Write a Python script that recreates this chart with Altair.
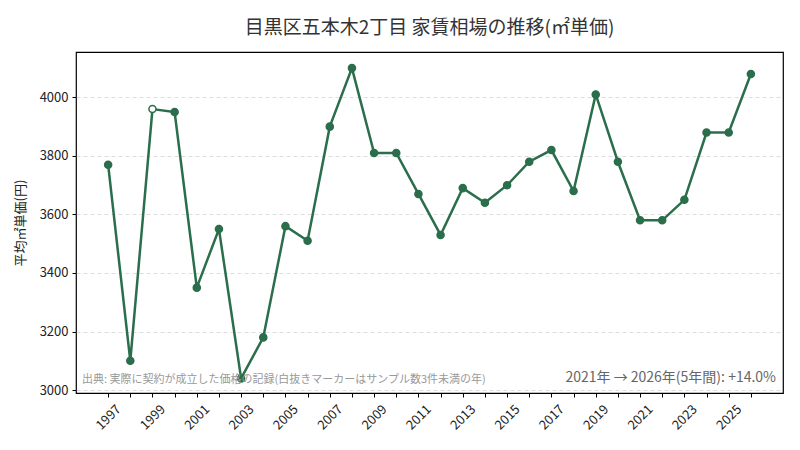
import pandas as pd
import altair as alt

# 年ごとの平均㎡単価(円)
years = list(range(1997, 2027))
prices = [3770, 3100, 3960, 3950, 3350, 3550, 3040, 3180, 3560, 3510,
          3900, 4100, 3810, 3810, 3670, 3530, 3690, 3640, 3700, 3780,
          3820, 3680, 4010, 3780, 3580, 3580, 3650, 3880, 3880, 4080]
# サンプル数3件未満の年(白抜き)
few_samples = [1999]

title_text = "目黒区五本木2丁目 家賃相場の推移(㎡単価)"
y_title = "平均㎡単価(円)"
source_note = "出典: 実際に契約が成立した価格の記録(白抜きマーカーはサンプル数3件未満の年)"
change_note = "2021年 → 2026年(5年間): +14.0%"

GREEN = "#2a6e4b"
FONT = "Noto Sans CJK JP"

df = pd.DataFrame({"year": years, "price": prices})
df["fill"] = ["white" if y in few_samples else GREEN for y in years]

x = alt.X("year:Q", title=None,
          scale=alt.Scale(domain=[1995.55, 2027.45], nice=False, zero=False),
          axis=alt.Axis(values=years, labelExpr="datum.value % 2 == 1 ? datum.value : ''",
                        labelAngle=315, labelAlign="center", labelBaseline="middle",
                        grid=False, tickColor="black", domain=False,
                        labelColor="#222", labelFontSize=13, tickSize=4, labelPadding=20))
y = alt.Y("price:Q", title=y_title,
          scale=alt.Scale(domain=[2990, 4155], nice=False, zero=False),
          axis=alt.Axis(values=[3000, 3200, 3400, 3600, 3800, 4000], format="d",
                        gridDash=[4, 3], gridColor="#dddddd", domain=False,
                        tickColor="black", labelColor="#222", labelFontSize=13,
                        titleFontSize=13, titleColor="#222", titleFontWeight="normal",
                        tickSize=4, titlePadding=12, labelPadding=4))

base = alt.Chart(df)
line = base.mark_line(color=GREEN, strokeWidth=2.5).encode(x=x, y=y)
points = base.mark_point(filled=False, size=50, strokeWidth=1.5, color=GREEN, opacity=1).encode(
    x=x, y=y, fill=alt.Fill("fill:N", scale=None))

left_note = alt.Chart(pd.DataFrame({"t": [source_note]})).mark_text(
    align="left", baseline="bottom", fontSize=11, color="#999999", font=FONT
).encode(text="t:N", x=alt.value(6), y=alt.value(333))
right_note = alt.Chart(pd.DataFrame({"t": [change_note]})).mark_text(
    align="right", baseline="bottom", fontSize=14, color="#666666", font=FONT
).encode(text="t:N", x=alt.value(700), y=alt.value(333))

chart = alt.layer(line, points, left_note, right_note).properties(
    width=707, height=341,
    title=alt.TitleParams(title_text, fontSize=19, fontWeight="normal", color="#333",
                          anchor="middle", offset=14),
    autosize=alt.AutoSizeParams(type="none"),
    padding={"left": 68, "top": 44, "right": 9, "bottom": 40},
).configure(font=FONT).configure_view(stroke="black", strokeWidth=1.2)

chart.save("out.html", embed_options={"renderer": "svg", "actions": False})
